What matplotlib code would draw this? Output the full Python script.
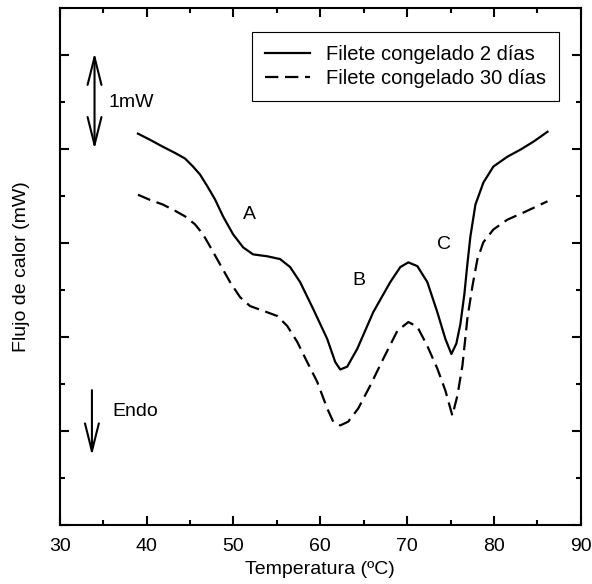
import numpy as np
import matplotlib
matplotlib.use('Agg')
import matplotlib.pyplot as plt
from matplotlib.ticker import MultipleLocator, NullFormatter

plt.rcParams['font.family'] = ['Liberation Sans', 'DejaVu Sans']

# Filete congelado 2 dias
t_2d = [39.00, 40.38, 41.88, 43.26, 44.42, 45.34, 46.15, 46.96, 47.88, 48.80,
        49.95, 51.11, 52.26, 53.88, 55.37, 56.53, 57.68, 59.18, 60.80, 61.72,
        62.30, 63.10, 64.26, 66.10, 68.06, 69.22, 70.14, 71.18, 72.33, 73.48,
        74.41, 75.10, 75.67, 76.14, 76.60, 76.94, 77.29, 77.87, 78.79, 79.94,
        81.56, 83.06, 84.56, 86.17]
q_2d = [8.33, 8.20, 8.05, 7.92, 7.80, 7.63, 7.46, 7.22, 6.93, 6.57,
        6.19, 5.91, 5.76, 5.72, 5.66, 5.49, 5.17, 4.60, 3.96, 3.47,
        3.31, 3.37, 3.75, 4.53, 5.17, 5.49, 5.59, 5.51, 5.17, 4.53,
        3.96, 3.64, 3.86, 4.28, 4.92, 5.55, 6.14, 6.82, 7.29, 7.63,
        7.84, 7.99, 8.16, 8.37]

# Filete congelado 30 dias
t_30d = [39.00, 40.38, 41.88, 43.26, 44.42, 45.57, 46.49, 47.30, 48.45, 49.61,
         50.76, 51.91, 53.41, 55.03, 56.18, 57.34, 58.49, 59.64, 60.80, 61.49,
         62.30, 63.22, 64.37, 65.76, 67.26, 68.87, 70.14, 71.18, 72.33, 73.48,
         74.41, 75.21, 75.79, 76.37, 76.94, 77.52, 78.10, 78.79, 79.94, 81.56,
         83.40, 86.17]
q_30d = [7.03, 6.92, 6.82, 6.69, 6.57, 6.40, 6.19, 5.93, 5.55, 5.17,
         4.85, 4.66, 4.56, 4.45, 4.24, 3.90, 3.47, 3.05, 2.48, 2.20,
         2.12, 2.20, 2.48, 2.97, 3.54, 4.13, 4.32, 4.22, 3.81, 3.33,
         2.86, 2.33, 2.75, 3.39, 4.39, 5.08, 5.66, 6.02, 6.29, 6.50,
         6.65, 6.89]

labels = ['Filete congelado 2 días', 'Filete congelado 30 días']
peaks = ['A', 'B', 'C']
peak_x = [51.9, 64.4, 74.2]
peak_y = [6.6, 5.2, 5.97]

fig = plt.figure(figsize=(5.92, 5.84), dpi=100)
ax = fig.add_axes([0.101, 0.101, 0.880, 0.885])

ax.plot(t_2d, q_2d, color='black', lw=1.6, label=labels[0],
        solid_joinstyle='round')
ax.plot(t_30d, q_30d, color='black', lw=1.6, dashes=(6, 3), label=labels[1],
        dash_joinstyle='round')

for s, x, y in zip(peaks, peak_x, peak_y):
    ax.text(x, y, s, fontsize=14, ha='center', va='center')

# scale arrow and endo arrow
ax.annotate('', xy=(34.0, 10.05), xytext=(34.0, 8.0),
            arrowprops=dict(arrowstyle='<->,head_length=2.0,head_width=0.5',
                            lw=1.5, color='black', mutation_scale=10,
                            shrinkA=0, shrinkB=0))
ax.text(35.6, 9.0, '1mW', fontsize=14, ha='left', va='center')
ax.annotate('', xy=(33.7, 1.48), xytext=(33.7, 2.87),
            arrowprops=dict(arrowstyle='->,head_length=2.0,head_width=0.5',
                            lw=1.5, color='black', mutation_scale=10,
                            shrinkA=0, shrinkB=0))
ax.text(36.0, 2.42, 'Endo', fontsize=14, ha='left', va='center')

ax.set_xlim(30, 90)
ax.set_ylim(0, 11)
ax.xaxis.set_major_locator(MultipleLocator(10))
ax.xaxis.set_minor_locator(MultipleLocator(5))
ax.yaxis.set_major_locator(MultipleLocator(2))
ax.yaxis.set_minor_locator(MultipleLocator(1))
ax.yaxis.set_major_formatter(NullFormatter())
ax.tick_params(which='both', direction='in', top=True, right=True,
               width=1.5, labelsize=14, colors='black')
ax.tick_params(axis='x', which='major', pad=9.5)
ax.tick_params(which='major', length=6.5)
ax.tick_params(which='minor', length=3.5)
for sp in ax.spines.values():
    sp.set_linewidth(1.5)

ax.set_xlabel('Temperatura (ºC)', fontsize=14, labelpad=4)
ax.set_ylabel('Flujo de calor (mW)', fontsize=14, labelpad=18)

leg = ax.legend(loc='upper right', bbox_to_anchor=(0.958, 0.954), borderaxespad=0,
                fontsize=14.5, fancybox=False, handlelength=2.2, handletextpad=0.8,
                framealpha=1, edgecolor='black', labelspacing=0.25, borderpad=0.65)
leg.get_frame().set_linewidth(0.8)

fig.savefig('out.png', dpi=100)
